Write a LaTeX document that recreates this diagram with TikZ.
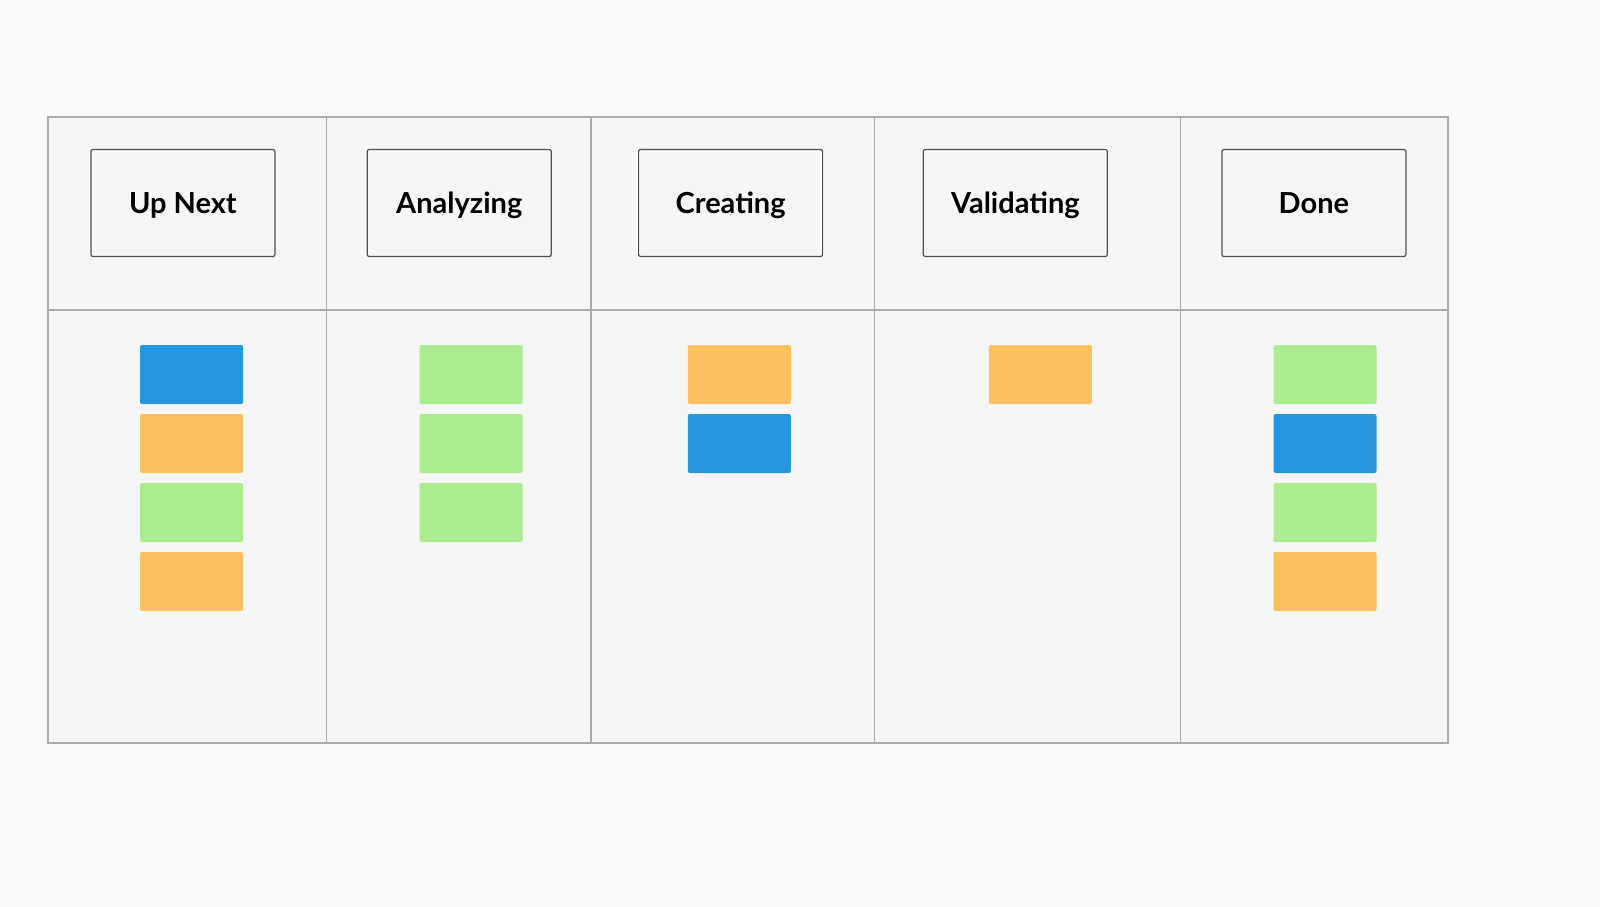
\documentclass[tikz,border=0pt]{standalone}
\usepackage{fontspec}
\setmainfont{Lato}
\usepackage{tikz}

\definecolor{pagebg}{HTML}{F9F9F9}
\definecolor{tablebg}{HTML}{F6F6F6}
\definecolor{gridline}{HTML}{ABABAB}
\definecolor{boxline}{HTML}{505050}
\definecolor{cardblue}{HTML}{2896DC}
\definecolor{cardorange}{HTML}{FFC062}
\definecolor{cardgreen}{HTML}{AAEC8F}

\begin{document}
\begin{tikzpicture}[x=1pt,y=-1pt]
  \tikzset{grid/.style = {draw=gridline,line width=1.2pt}}
  \tikzset{header/.style = {shape=rectangle,draw=boxline,rounded corners=2pt,line width=1.2pt,minimum width=184pt,minimum height=107pt,inner sep=0pt,text height=20pt,text depth=0pt,font=\fontsize{29}{34}\selectfont\bfseries}}
  \tikzset{card/.style = {shape=rectangle,rounded corners=2pt,minimum width=103pt,minimum height=59pt,inner sep=0pt}}

  \fill[pagebg] (0,0) rectangle (1600,907);
  \useasboundingbox (0,0) rectangle (1600,907);

  % board
  \draw[grid,fill=tablebg] (48,117) rectangle (1448,743);
  \draw[grid] (48,310) -- (1448,310);
  \foreach \x in {326.5,591,874.5,1180.6}
    \draw[grid] (\x,117) -- (\x,743);

  % column titles
	\node[header] (upnext) at (182.9,203) {Up Next};
	\node[header] (analyzing) at (459.2,203) {Analyzing};
	\node[header] (creating) at (730.6,203) {Creating};
	\node[header] (validating) at (1015.3,203) {Validating};
	\node[header] (done) at (1313.9,203) {Done};

  % cards
  \foreach \name/\x/\row/\clr in {u1/191.5/0/cardblue, u2/191.5/1/cardorange, u3/191.5/2/cardgreen, u4/191.5/3/cardorange,
      a1/471/0/cardgreen, a2/471/1/cardgreen, a3/471/2/cardgreen,
      c1/739.3/0/cardorange, c2/739.3/1/cardblue,
      v1/1040.3/0/cardorange,
      d1/1325/0/cardgreen, d2/1325/1/cardblue, d3/1325/2/cardgreen, d4/1325/3/cardorange}
    \node[card,fill=\clr] (\name) at (\x,{374.5+69*\row}) {};
\end{tikzpicture}
\end{document}
